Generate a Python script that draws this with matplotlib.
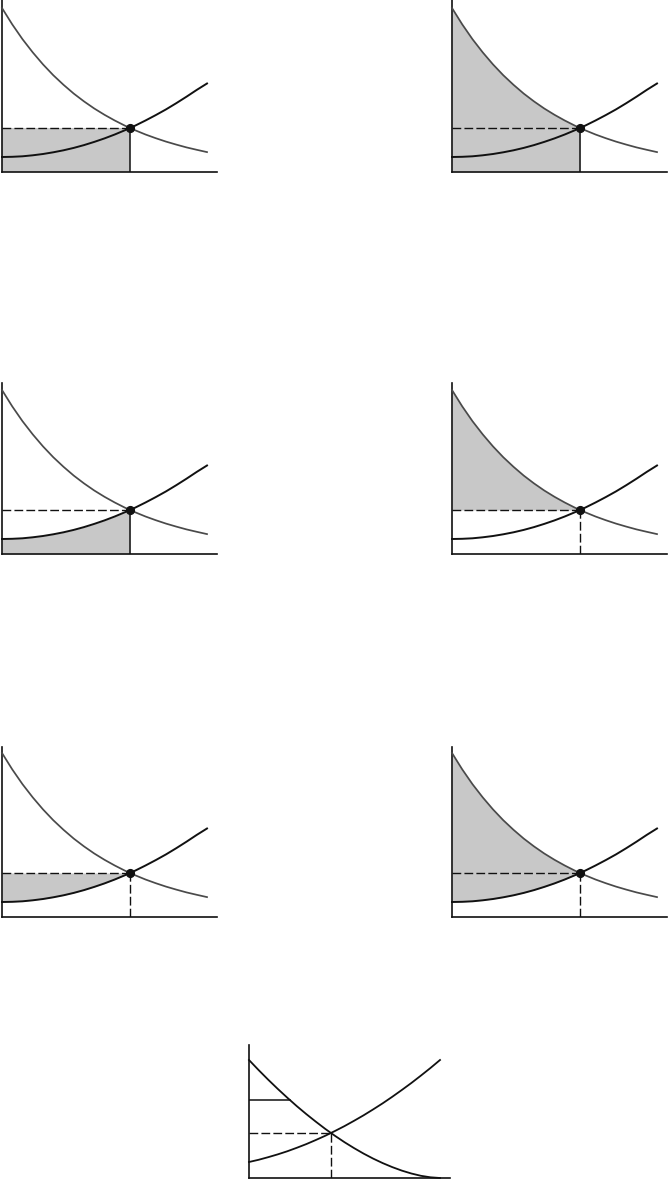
import numpy as np
import matplotlib
matplotlib.use("Agg")
import matplotlib.pyplot as plt

plt.rcParams['lines.scale_dashes'] = False

# ---- Data: panels 1-6 (quantity units, price units) ----
quantity = np.arange(0, 10.01, 0.5)
demand = [164.0, 147.6, 132.8, 119.6, 107.6, 96.8, 87.2, 78.4, 70.6, 63.5, 57.2,
          51.5, 46.3, 41.7, 37.5, 33.8, 30.4, 27.4, 24.6, 22.2, 19.9]
supply = [15.0, 15.2, 15.7, 16.7, 18.0, 19.7, 21.7, 24.1, 26.9, 30.1, 33.6,
          37.5, 41.8, 46.4, 51.5, 56.9, 62.6, 68.8, 75.3, 82.1, 88.5]
q_eq = 6.25
p_eq = 44.0

# ---- Data: panel 7 ----
quantity7 = np.arange(0, 10.01, 0.5)
demand7 = [118.0, 108.0, 98.4, 89.2, 80.4, 71.9, 63.9, 56.3, 49.0, 42.2, 35.8,
           29.9, 24.4, 19.4, 14.9, 10.9, 7.4, 4.5, 2.2, 0.7, 0.0]
supply7 = [16.0, 18.2, 20.8, 23.6, 26.7, 30.2, 33.9, 38.0, 42.3, 47.0, 51.9,
           57.2, 62.7, 68.6, 74.7, 81.2, 88.0, 95.0, 102.4, 110.0, 118.0]
q_eq7 = 4.29
p_eq7 = 45.0
p_ceiling7 = 78.0

W, H = 668, 1189
fig = plt.figure(figsize=(W / 100, H / 100), dpi=100)

FILL = '#c8c8c8'
DCOL = '#4a4a4a'
SCOL = '#111111'
DASH = (0, (6.3, 2.3))


def make_ax(x0, xaxis_y, top_y, length, xmax, ymax):
    h = xaxis_y - top_y
    ax = fig.add_axes([x0 / W, (H - xaxis_y) / H, length / W, h / H])
    ax.set_xlim(0, xmax)
    ax.set_ylim(0, ymax)
    for s in ['top', 'right']:
        ax.spines[s].set_visible(False)
    for s in ['left', 'bottom']:
        ax.spines[s].set_linewidth(1.2)
        ax.spines[s].set_color('#111111')
    ax.set_xticks([])
    ax.set_yticks([])
    ax.patch.set_alpha(0)
    return ax


q = np.array(quantity)
d = np.array(demand)
s = np.array(supply)
mask = q < q_eq
q_left = np.append(q[mask], q_eq)
d_left = np.append(d[mask], p_eq)
s_left = np.append(s[mask], p_eq)

# panel positions (pixels): (y-axis x, x-axis y, top y)
positions = [(2, 172, 0), (452, 172, 0),
             (2, 554, 383), (452, 554, 383),
             (2, 917, 747), (452, 917, 747)]
unit = 20.5  # pixels per quantity unit

for i, (x0, ya, top) in enumerate(positions):
    ax = make_ax(x0, ya, top, 215, 215 / unit, ya - top)
    if i == 0:
        ax.fill_between([0, q_eq], 0, p_eq, color=FILL, lw=0, zorder=1)
    elif i == 1:
        ax.fill_between(q_left, 0, d_left, color=FILL, lw=0, zorder=1)
    elif i == 2:
        ax.fill_between(q_left, 0, s_left, color=FILL, lw=0, zorder=1)
    elif i == 3:
        ax.fill_between(q_left, p_eq, d_left, color=FILL, lw=0, zorder=1)
    elif i == 4:
        ax.fill_between(q_left, s_left, p_eq, color=FILL, lw=0, zorder=1)
    else:
        ax.fill_between(q_left, s_left, d_left, color=FILL, lw=0, zorder=1)

    ax.plot([0, q_eq], [p_eq, p_eq], color='#111111', lw=1.0, ls=DASH, zorder=2)
    if i < 3:
        ax.plot([q_eq, q_eq], [0, p_eq], color='#111111', lw=1.1, zorder=2)
    else:
        ax.plot([q_eq, q_eq], [0, p_eq], color='#111111', lw=1.0, ls=DASH, zorder=2)
    ax.plot(q, d, color=DCOL, lw=1.25, zorder=3, clip_on=False)
    ax.plot(q, s, color=SCOL, lw=1.4, zorder=3, clip_on=False)
    ax.plot([q_eq], [p_eq], 'o', color='#111111', ms=5.6, zorder=4, clip_on=False)

# panel 7
unit7 = 19.1
ax = make_ax(249, 1178, 1045, 201, 201 / unit7, 133)
q7 = np.array(quantity7)
d7 = np.array(demand7)
s7 = np.array(supply7)
q_ceil = np.interp(p_ceiling7, d7[::-1], q7[::-1])
ax.plot([0, q_ceil], [p_ceiling7, p_ceiling7], color='#111111', lw=1.1, zorder=2)
ax.plot([0, q_eq7], [p_eq7, p_eq7], color='#111111', lw=1.0, ls=DASH, zorder=2)
ax.plot([q_eq7, q_eq7], [0, p_eq7], color='#111111', lw=1.0, ls=DASH, zorder=2)
ax.plot(q7, d7, color=SCOL, lw=1.3, zorder=3, clip_on=False)
ax.plot(q7, s7, color=SCOL, lw=1.3, zorder=3, clip_on=False)

fig.savefig('out.png', dpi=100)
